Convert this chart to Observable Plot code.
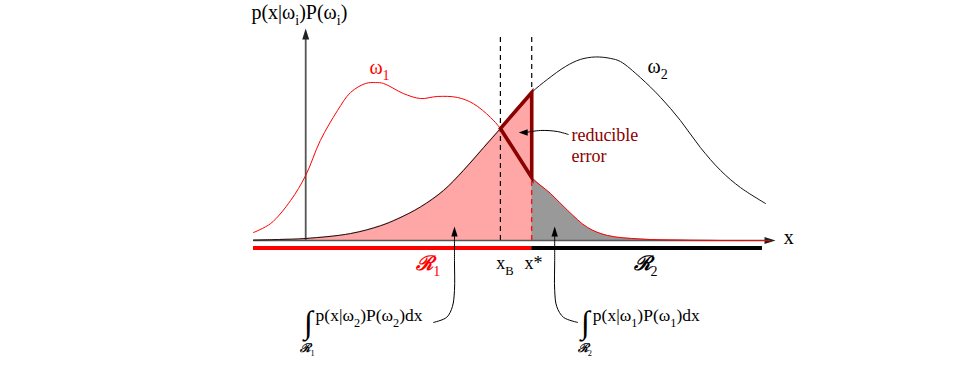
<!DOCTYPE html>
<html>
<head>
<meta charset="utf-8">
<script src="https://cdn.jsdelivr.net/npm/d3@7"></script>
<script src="https://cdn.jsdelivr.net/npm/@observablehq/plot@0.6"></script>
<style>
  html, body { margin: 0; padding: 0; background: #fff; }
  #chart svg { display: block; }
</style>
</head>
<body>
<div id="chart"></div>
<script>
// ---- data (x and y in arbitrary units 0..100) ----
const omega1X = [0, 3.3, 7.1, 10, 12.8, 16.1, 18.6, 21.5, 23.4, 24.9, 28.7, 32, 35.3, 39.1, 42.1, 45.4, 47.3, 50.2, 53.3, 56.9, 60.2, 64, 67.8, 74.1, 81.8, 89.5, 99];
const omega1Y = [3.8, 8.1, 19, 31, 47.6, 61.9, 70.5, 74.8, 75.2, 74.8, 70, 67.6, 68.6, 68.1, 65.2, 58.6, 53.3, 41.9, 30, 22.4, 14.3, 6.2, 2.4, 0.7, 0.2, 0, 0];
const omega2X = [0, 5, 10, 18.6, 24.3, 27.6, 32, 36.4, 40.2, 44.1, 47.3, 50.2, 53.3, 56.3, 59.8, 62.6, 65.5, 68.4, 70.3, 74.1, 78, 81.8, 85.6, 89.5, 93.3, 98.1];
const omega2Y = [0.2, 0.5, 0.95, 3.3, 7.0, 10.3, 16.0, 23.8, 33.3, 44.3, 53.3, 61.9, 70.5, 76.7, 82.9, 86.2, 87.4, 86.7, 85.2, 77.6, 68.1, 57.1, 44.3, 33.3, 25.2, 17.6];
const xB = 47.3;      // Bayes boundary
const xStar = 53.3;   // chosen boundary x*
const classLabels = ["ω_1", "ω_2"];
const regionLabels = ["ℛ_1", "ℛ_2"];
const boundaryLabels = ["x_B", "x*"];
const errorTerms = ["p(x|ω_2)P(ω_2)dx", "p(x|ω_1)P(ω_1)dx"];
const annotation = "reducible\nerror";
const axisLabels = ["p(x|ω_i)P(ω_i)", "x"];

// ---- derived tables ----
const w1 = omega1X.map((x, i) => ({x, y: omega1Y[i]}));
const w2 = omega2X.map((x, i) => ({x, y: omega2Y[i]}));
const yAt = (xs, ys, x) => ys[xs.indexOf(x)];
const A = {x: xB, y: yAt(omega2X, omega2Y, xB)};
const B = {x: xStar, y: yAt(omega2X, omega2Y, xStar)};
const C = {x: xStar, y: yAt(omega1X, omega1Y, xStar)};
const triangle = [A, B, C, A, B];

const SERIF = "Liberation Serif, Times New Roman, DejaVu Serif, serif";
const darkRed = "#8b0000";

// arrowhead symbols (tip at the point)
const headUp = {draw(c) { c.moveTo(0, 0); c.lineTo(-3.2, 10); c.lineTo(3.2, 10); c.closePath(); }};
const headRight = {draw(c) { c.moveTo(0, 0); c.lineTo(-11, -3.5); c.lineTo(-11, 3.5); c.closePath(); }};
const headLeft = {draw(c) { c.moveTo(0, 0); c.lineTo(9, -3.2); c.lineTo(9, 3.2); c.closePath(); }};
const headUpAxis = {draw(c) { c.moveTo(0, 0); c.lineTo(-3.5, 11); c.lineTo(3.5, 11); c.closePath(); }};

const label = (text, x, y, opts = {}) =>
  Plot.text([{x, y, text}], {x: "x", y: "y", text: "text", textAnchor: "start",
    fontFamily: SERIF, fontSize: 19, fill: "black", ...opts});

const arrow1 = [{x: 34.5, y: -39.0}, {x: 37.0, y: -36.6}, {x: 38.1, y: -31.5}, {x: 38.5, y: -23.8}, {x: 38.5, y: -9.5}, {x: 38.5, y: 3.0}];
const arrow2 = [{x: 62.1, y: -39.0}, {x: 59.4, y: -36.6}, {x: 58.1, y: -31.5}, {x: 57.7, y: -23.8}, {x: 57.7, y: -9.5}, {x: 57.7, y: 3.0}];
const arrow3 = [{x: 60.3, y: 50.5}, {x: 58.2, y: 51.9}, {x: 55.0, y: 52.4}, {x: 52.3, y: 51.5}];

const chart = Plot.plot({
  width: 957,
  height: 366,
  marginLeft: 253,
  marginRight: 182,
  marginTop: 30,
  marginBottom: 126,
  x: {domain: [0, 100], axis: null},
  y: {domain: [0, 100], axis: null},
  style: {background: "white", fontFamily: SERIF},
  marks: [
    // shaded error areas
    Plot.areaY(w2.filter(d => d.x <= xStar), {x: "x", y: "y", fill: "#ffa6a6", curve: "catmull-rom"}),
    Plot.areaY(w1.filter(d => d.x >= xStar), {x: "x", y: "y", fill: "#999999", curve: "catmull-rom"}),
    // dashed boundaries
    Plot.ruleX([{x: xB, y1: 0, y2: 98.6}], {x: "x", y1: "y1", y2: "y2", stroke: "black", strokeWidth: 1.2, strokeDasharray: "5,4"}),
    Plot.ruleX([{x: xStar, y1: C.y, y2: 98.6}], {x: "x", y1: "y1", y2: "y2", stroke: "black", strokeWidth: 1.2, strokeDasharray: "5,4"}),
    Plot.ruleX([{x: xStar, y1: 0, y2: C.y}], {x: "x", y1: "y1", y2: "y2", stroke: "#ff0000", strokeWidth: 1.2, strokeDasharray: "5,4"}),
    // axes
    Plot.ruleY([{y: 0, x1: 0, x2: 98}], {y: "y", x1: "x1", x2: "x2", stroke: "#555", strokeWidth: 1.6}),
    Plot.ruleX([{x: 10, y1: 0, y2: 97}], {x: "x", y1: "y1", y2: "y2", stroke: "#555", strokeWidth: 1.8}),
    Plot.dot([{x: 100, y: 0}], {x: "x", y: "y", symbol: headRight, r: 4, fill: "#222", stroke: "none"}),
    Plot.dot([{x: 10, y: 101}], {x: "x", y: "y", symbol: headUpAxis, r: 4, fill: "#222", stroke: "none"}),
    // class curves
    Plot.line(w1, {x: "x", y: "y", stroke: "#ff0000", strokeWidth: 1, curve: "catmull-rom"}),
    Plot.line(w2, {x: "x", y: "y", stroke: "#111", strokeWidth: 1, curve: "catmull-rom"}),
    // reducible error triangle
    Plot.line(triangle, {x: "x", y: "y", stroke: darkRed, strokeWidth: 3.6, strokeLinejoin: "miter", strokeMiterlimit: 10}),
    // decision regions
    Plot.ruleY([{y: -3.6, x1: 0, x2: xStar}], {y: "y", x1: "x1", x2: "x2", stroke: "#ff0000", strokeWidth: 4}),
    Plot.ruleY([{y: -3.6, x1: xStar, x2: 97.5}], {y: "y", x1: "x1", x2: "x2", stroke: "black", strokeWidth: 4}),
    // annotation arrows
    Plot.line(arrow1, {x: "x", y: "y", stroke: "black", strokeWidth: 1, curve: "catmull-rom"}),
    Plot.line(arrow2, {x: "x", y: "y", stroke: "black", strokeWidth: 1, curve: "catmull-rom"}),
    Plot.line(arrow3, {x: "x", y: "y", stroke: "black", strokeWidth: 1, curve: "catmull-rom"}),
    Plot.dot([{x: 38.5, y: 6.7}, {x: 57.7, y: 6.7}], {x: "x", y: "y", symbol: headUp, r: 4, fill: "black", stroke: "none"}),
    Plot.dot([{x: 50.8, y: 51.4}], {x: "x", y: "y", symbol: headLeft, r: 4, fill: "black", stroke: "none"}),
    // texts
    label(axisLabels[0], -0.4, 108.3, {fontSize: 20}),
    label(axisLabels[1], 101.6, 1.4, {fontSize: 20}),
    label(classLabels[0], 22.2, 82.1, {fontSize: 20, fill: "#ff0000"}),
    label(classLabels[1], 75.5, 82.6, {fontSize: 20}),
    label(annotation, 60.9, 45.4, {fill: darkRed, fontSize: 18, lineHeight: 1.15}),
    label(regionLabels[0], 31.2, -10.8, {fontSize: 20, fill: "#ff0000", fontStyle: "italic", fontWeight: "bold"}),
    label(regionLabels[1], 72.8, -10.8, {fontSize: 20, fontStyle: "italic", fontWeight: "bold"}),
    label(boundaryLabels[0], 46.5, -11.0, {fontSize: 18}),
    label(boundaryLabels[1], 51.9, -11.0, {fontSize: 18}),
    // integrals
    label("∫", 10.5, -39.3, {fontSize: 32, textAnchor: "middle"}),
    label(errorTerms[0], 11.9, -35.9, {fontSize: 17.5}),
    label(regionLabels[0], 9.0, -51.5, {fontSize: 12, fontStyle: "italic", fontWeight: "bold"}),
    label("∫", 63.6, -39.3, {fontSize: 32, textAnchor: "middle"}),
    label(errorTerms[1], 65.0, -35.9, {fontSize: 17.5}),
    label(regionLabels[1], 62.1, -51.5, {fontSize: 12, fontStyle: "italic", fontWeight: "bold"})
  ]
});

document.getElementById("chart").appendChild(chart);

// turn "_c" into subscript tspans
function applySubs(svg) {
  for (const t of svg.querySelectorAll("text")) {
    const s = t.textContent;
    if (!s.includes("_")) continue;
    const fs = parseFloat(getComputedStyle(t).fontSize) || 16;
    const shift = fs * 0.3;
    t.textContent = "";
    let wasSub = false;
    for (const p of s.split(/(_\S)/)) {
      if (!p) continue;
      const ts = document.createElementNS("http://www.w3.org/2000/svg", "tspan");
      if (p.startsWith("_")) {
        ts.textContent = p.slice(1);
        ts.setAttribute("font-size", (fs * 0.7).toFixed(1));
        ts.setAttribute("font-style", "normal");
        ts.setAttribute("font-weight", "normal");
        ts.setAttribute("dy", shift.toFixed(1));
        wasSub = true;
      } else {
        ts.textContent = p;
        if (wasSub) ts.setAttribute("dy", (-shift).toFixed(1));
        wasSub = false;
      }
      t.appendChild(ts);
    }
  }
}
applySubs(chart);
</script>
</body>
</html>
